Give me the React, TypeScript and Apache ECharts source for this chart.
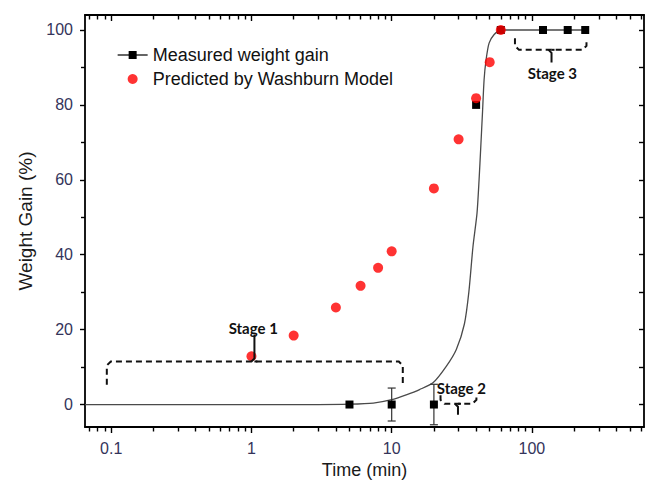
import React, { useEffect, useRef } from 'react';
import * as echarts from 'echarts';

// ---------- data ----------
const measuredTime = [5, 10, 20, 40, 60, 120, 180, 240];
const measuredGain = [0, 0, 0, 80, 100, 100, 100, 100];

const errorTime = [10, 20];
const errorCenter = [0, 0];
const errorSize = [4.4, 5.4];

const predictedTime = [1, 2, 4, 6, 8, 10, 20, 30, 40, 50, 60];
const predictedGain = [12.9, 18.4, 25.9, 31.7, 36.5, 40.9, 57.7, 70.8, 81.8, 91.4, 100];

const curveTime = [0.065, 3, 5, 7.4, 10, 12.7, 15.8, 19.7, 24.5, 28.9, 33, 35.5, 38, 40.6, 42, 43.2, 44.4, 45.6, 47.1, 49.5, 53.8, 60, 120, 180, 240];
const curveGain = [0, 0, 0.1, 0.4, 1.3, 2.6, 4.0, 5.8, 10.2, 14.7, 21.5, 30, 42.2, 51.1, 60, 68.9, 77.8, 86.7, 92, 96.5, 98.8, 100, 100, 100, 100];

const xMajorTicks = [0.1, 1, 10, 100];
const xMinorTicks = [0.07, 0.08, 0.09, 0.2, 0.3, 0.4, 0.5, 0.6, 0.7, 0.8, 0.9, 2, 3, 4, 5, 6, 7, 8, 9, 20, 30, 40, 50, 60, 70, 80, 90, 200, 300, 400, 500, 600];
const yLabelTicks = [0, 20, 40, 60, 80, 100];
const yMinorTicks = [10, 30, 50, 70, 90];
const yAllTicks = [0, 10, 20, 30, 40, 50, 60, 70, 80, 90, 100];

const stageNames = ['Stage 1', 'Stage 2', 'Stage 3'];
const stageLabelTime = [1.03, 31.4, 140];
const stageLabelGain = [20.5, 4.4, 88.4];
const bracketStart = [0.093, 22.3, 75.7];
const bracketEnd = [12.0, 40.2, 245];
const bracketTip = [1.05, 29.7, 138];
const bracketLevel = [11.5, 0.2, 94.7];
const bracketArm = [5.3, 2.5, 97.8];
const bracketPoint = [18.7, -2.7, 91.3];

const X_MIN = 0.065;
const X_MAX = 630;
const Y_MIN = -6;
const Y_MAX = 104;

const FONT = '"Liberation Sans", Arial, sans-serif';
const LABEL_COLOR = '#34345a';

export default function App() {
  const ref = useRef<HTMLDivElement>(null);

  useEffect(() => {
    if (!ref.current) return;
    const chart = echarts.init(ref.current, undefined, { renderer: 'svg' });

    const baseX = {
      type: 'log' as const,
      logBase: 10,
      min: X_MIN,
      max: X_MAX,
      splitLine: { show: false },
    };
    const baseY = {
      type: 'value' as const,
      min: Y_MIN,
      max: Y_MAX,
      splitLine: { show: false },
    };
    const frameLine = { show: true, onZero: false, lineStyle: { color: '#000', width: 1.8 } };
    const noLine = { show: false, onZero: false };
    const tickLine = { color: '#000', width: 1.4 };

    const bracketData = stageNames.map((n, i) => [
      bracketStart[i], bracketEnd[i], bracketTip[i], bracketLevel[i], bracketArm[i], bracketPoint[i], stageLabelTime[i], stageLabelGain[i], i,
    ]);

    chart.setOption({
      animation: false,
      backgroundColor: '#fff',
      grid: { left: 85, right: 2, top: 15, bottom: 63, containLabel: false },
      legend: {
        orient: 'vertical',
        left: 112,
        top: 40,
        itemWidth: 30,
        itemHeight: 10,
        itemGap: 4,
        textStyle: { fontFamily: FONT, fontSize: 18, color: '#111', lineHeight: 20 },
        data: [
          { name: 'Measured weight gain', lineStyle: { width: 1.3, color: '#111', opacity: 1 } },
          { name: 'Predicted by Washburn Model' },
        ],
      },
      xAxis: [
        {
          ...baseX,
          position: 'bottom',
          name: 'Time (min)',
          nameLocation: 'middle',
          nameGap: 33,
          nameTextStyle: { fontFamily: FONT, fontSize: 18, color: '#1a1a1a' },
          axisLine: frameLine,
          axisTick: { show: true, customValues: xMajorTicks, length: 6, lineStyle: tickLine },
          axisLabel: {
            show: true,
            customValues: xMajorTicks,
            margin: 13,
            fontFamily: FONT,
            fontSize: 16,
            color: LABEL_COLOR,
            formatter: (v: number) => String(v),
          },
        },
        {
          ...baseX,
          position: 'bottom',
          axisLine: noLine,
          axisTick: { show: true, customValues: xMinorTicks, length: 4.5, lineStyle: tickLine },
          axisLabel: { show: false },
        },
        {
          ...baseX,
          position: 'top',
          axisLine: frameLine,
          axisTick: { show: true, inside: true, customValues: xMajorTicks, length: 6, lineStyle: tickLine },
          axisLabel: { show: false },
        },
        {
          ...baseX,
          position: 'top',
          axisLine: noLine,
          axisTick: { show: true, inside: true, customValues: xMinorTicks, length: 4.5, lineStyle: tickLine },
          axisLabel: { show: false },
        },
      ],
      yAxis: [
        {
          ...baseY,
          position: 'left',
          name: 'Weight Gain (%)',
          nameLocation: 'middle',
          nameGap: 46,
          nameTextStyle: { fontFamily: FONT, fontSize: 19, color: '#1a1a1a' },
          axisLine: frameLine,
          axisTick: { show: true, customValues: yLabelTicks, length: 5, lineStyle: tickLine },
          axisLabel: {
            show: true,
            customValues: yLabelTicks,
            margin: 12,
            fontFamily: FONT,
            fontSize: 16,
            color: LABEL_COLOR,
          },
        },
        {
          ...baseY,
          position: 'left',
          axisLine: noLine,
          axisTick: { show: true, customValues: yMinorTicks, length: 4, lineStyle: tickLine },
          axisLabel: { show: false },
        },
        {
          ...baseY,
          position: 'right',
          axisLine: frameLine,
          axisTick: { show: true, inside: true, customValues: yAllTicks, length: 5, lineStyle: tickLine },
          axisLabel: { show: false },
        },
      ],
      series: [
        {
          name: 'fit',
          type: 'line',
          xAxisIndex: 0,
          yAxisIndex: 0,
          data: curveTime.map((t, i) => [t, curveGain[i]]),
          showSymbol: false,
          smooth: 0.25,
          lineStyle: { color: '#4a4a4a', width: 1.3 },
          z: 2,
          silent: true,
        },
        {
          name: 'errors',
          type: 'custom',
          xAxisIndex: 0,
          yAxisIndex: 0,
          data: errorTime.map((t, i) => [t, errorCenter[i], errorSize[i]]),
          renderItem: (params: any, api: any) => {
            const x = api.value(0);
            const y = api.value(1);
            const e = api.value(2);
            const top = api.coord([x, y + e]);
            const bot = api.coord([x, y - e]);
            const hw = 4;
            const style = { stroke: '#333', lineWidth: 1.2 };
            return {
              type: 'group',
              children: [
                { type: 'line', shape: { x1: top[0], y1: top[1], x2: bot[0], y2: bot[1] }, style },
                { type: 'line', shape: { x1: top[0] - hw, y1: top[1], x2: top[0] + hw, y2: top[1] }, style },
                { type: 'line', shape: { x1: bot[0] - hw, y1: bot[1], x2: bot[0] + hw, y2: bot[1] }, style },
              ],
            };
          },
          z: 3,
          silent: true,
        },
        {
          name: 'Measured weight gain',
          type: 'line',
          xAxisIndex: 0,
          yAxisIndex: 0,
          data: measuredTime.map((t, i) => [t, measuredGain[i]]),
          symbol: 'rect',
          symbolSize: 8,
          showSymbol: true,
          itemStyle: { color: '#000' },
          lineStyle: { width: 0, color: '#000' },
          z: 4,
        },
        {
          name: 'Predicted by Washburn Model',
          type: 'scatter',
          xAxisIndex: 0,
          yAxisIndex: 0,
          data: predictedTime.map((t, i) => [t, predictedGain[i]]),
          symbol: 'circle',
          symbolSize: 10,
          itemStyle: { color: '#ff0000' },
          z: 5,
        },
        {
          name: 'stages',
          type: 'custom',
          xAxisIndex: 0,
          yAxisIndex: 0,
          data: bracketData,
          renderItem: (params: any, api: any) => {
            const xs = api.value(0);
            const xe = api.value(1);
            const xm = api.value(2);
            const yl = api.value(3);
            const ya = api.value(4);
            const yp = api.value(5);
            const lx = api.value(6);
            const ly = api.value(7);
            const idx = api.value(8);
            const p1 = api.coord([xs, ya]);
            const p2 = api.coord([xs, yl]);
            const p3 = api.coord([xe, yl]);
            const p4 = api.coord([xe, ya]);
            const m1 = api.coord([xm, yl]);
            const m2 = api.coord([xm, yp]);
            const lp = api.coord([lx, ly]);
            // small bevelled corners so the bracket reads like a brace
            const r = 4;
            const dy = p1[1] > p2[1] ? 1 : -1;
            const pts = [
              p1,
              [p2[0], p2[1] + dy * r],
              [p2[0] + r, p2[1]],
              [p3[0] - r, p3[1]],
              [p3[0], p3[1] + dy * r],
              p4,
            ];
            const hook = 3;
            return {
              type: 'group',
              children: [
                {
                  type: 'polyline',
                  shape: { points: pts },
                  style: { stroke: '#111', lineWidth: 2, lineDash: [6, 4], fill: null },
                },
                {
                  type: 'polyline',
                  shape: {
                    points: [
                      [m1[0] - hook, m1[1]],
                      [m1[0], m1[1] - (m2[1] > m1[1] ? -hook : hook)],
                      [m2[0], m2[1]],
                    ],
                  },
                  style: { stroke: '#111', lineWidth: 2, fill: null },
                },
                {
                  type: 'line',
                  shape: { x1: m1[0], y1: m1[1], x2: m1[0] + hook, y2: m1[1] },
                  style: { stroke: '#111', lineWidth: 2 },
                },
                {
                  type: 'text',
                  style: {
                    text: stageNames[idx],
                    x: lp[0],
                    y: lp[1],
                    align: 'center',
                    verticalAlign: 'middle',
                    fontFamily: 'Lato, "Open Sans", sans-serif',
                    fontWeight: 'bold',
                    fontSize: 15,
                    fill: '#111',
                  },
                },
              ],
            };
          },
          z: 6,
          silent: true,
        },
      ],
    });

    return () => {
      chart.dispose();
    };
  }, []);

  return (
    <div
      ref={ref}
      style={{ position: 'fixed', left: 0, top: 0, width: 646, height: 490, background: '#fff' }}
    />
  );
}
